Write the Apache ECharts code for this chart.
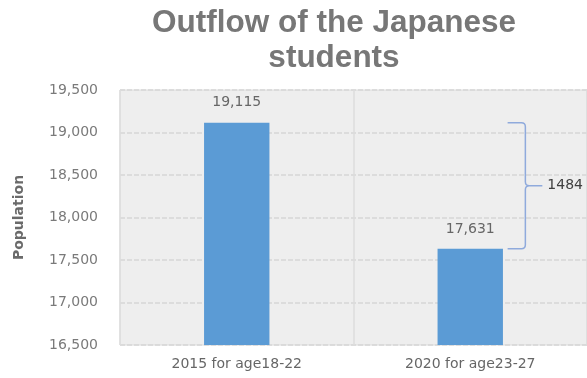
<!DOCTYPE html>
<html>
<head>
<meta charset="utf-8">
<script src="https://cdn.jsdelivr.net/npm/echarts@6/dist/echarts.min.js"></script>
<style>
  html, body { margin: 0; padding: 0; background: #fff; }
  #chart { width: 587px; height: 378px; }
</style>
</head>
<body>
<div id="chart"></div>
<script>
const categories = ['2015 for age18-22', '2020 for age23-27'];
const population = [19115, 17631];
const yTicks = [16500, 17000, 17500, 18000, 18500, 19000, 19500];

const chart = echarts.init(document.getElementById('chart'));
const labelFont = '"DejaVu Sans", sans-serif';
const fmt = v => Number(v).toLocaleString('en-US');

// bracket between the two bars, drawn from the data values
const drop = population[0] - population[1];

const option = {
  backgroundColor: '#fff',
  animation: false,
  title: {
    text: 'Outflow of the Japanese\nstudents',
    left: 329,
    textAlign: 'center',
    top: 1,
    textStyle: {
      fontFamily: '"Liberation Sans", Arial, sans-serif',
      fontSize: 31.5,
      fontWeight: 'bold',
      color: '#777777',
      lineHeight: 35
    }
  },
  grid: {
    left: 120,
    right: -3,
    top: 90,
    bottom: 33,
    backgroundColor: '#eeeeee',
    borderColor: '#dcdcdc',
    borderWidth: 1,
    show: true
  },
  xAxis: {
    type: 'category',
    data: categories,
    axisLine: { show: false },
    axisTick: { show: false },
    splitLine: { show: true, lineStyle: { color: '#dcdcdc', width: 1.5 } },
    axisLabel: {
      color: '#666666',
      fontSize: 14,
      fontFamily: labelFont,
      margin: 12
    }
  },
  yAxis: {
    type: 'value',
    min: yTicks[0],
    max: yTicks[yTicks.length - 1],
    interval: 500,
    name: 'Population',
    nameLocation: 'middle',
    nameGap: 94,
    nameTextStyle: { color: '#6a6a6a', fontSize: 14, fontWeight: 'bold', fontFamily: labelFont },
    axisLine: { show: false },
    axisTick: { show: false },
    splitLine: { lineStyle: { color: '#d6d6d6', width: 1.5, type: [5, 2] } },
    axisLabel: {
      color: '#7a7a7a',
      fontSize: 14,
      fontFamily: labelFont,
      margin: 22,
      formatter: fmt
    }
  },
  series: [
    {
      type: 'bar',
      data: population,
      barWidth: '28%',
      itemStyle: { color: '#5b9bd5' },
      label: {
        show: true,
        position: 'top',
        distance: 13,
        color: '#666666',
        fontSize: 14,
        fontFamily: labelFont,
        formatter: p => fmt(p.value)
      }
    },
    {
      type: 'custom',
      data: [[1, population[0], population[1]]],
      z: 5,
      renderItem: function (params, api) {
        const band = api.size([1, 0])[0];
        const top = api.coord([api.value(0), api.value(1)]);
        const bot = api.coord([api.value(0), api.value(2)]);
        const x = top[0] + band * 0.236;
        const x0 = top[0] + band * 0.16;
        const r = 4;
        const midY = (top[1] + bot[1]) / 2;
        const col = '#8faadc';
        return {
          type: 'group',
          children: [
            {
              type: 'path',
              shape: {
                pathData:
                  'M' + x0 + ' ' + top[1] + ' L' + (x - r) + ' ' + top[1] +
                  ' Q' + x + ' ' + top[1] + ' ' + x + ' ' + (top[1] + r) +
                  ' L' + x + ' ' + (midY - r) +
                  ' Q' + x + ' ' + midY + ' ' + (x + r) + ' ' + midY +
                  ' L' + (x + 17) + ' ' + midY +
                  ' M' + (x + r) + ' ' + midY +
                  ' Q' + x + ' ' + midY + ' ' + x + ' ' + (midY + r) +
                  ' L' + x + ' ' + (bot[1] - r) +
                  ' Q' + x + ' ' + bot[1] + ' ' + (x - r) + ' ' + bot[1] +
                  ' L' + x0 + ' ' + bot[1]
              },
              style: { stroke: col, lineWidth: 1.5, fill: null }
            },
            {
              type: 'text',
              x: x + 22,
              y: midY,
              style: {
                text: String(drop),
                fill: '#404040',
                fontSize: 14,
                fontFamily: labelFont,
                verticalAlign: 'middle'
              }
            }
          ]
        };
      }
    }
  ]
};

chart.setOption(option);
</script>
</body>
</html>
